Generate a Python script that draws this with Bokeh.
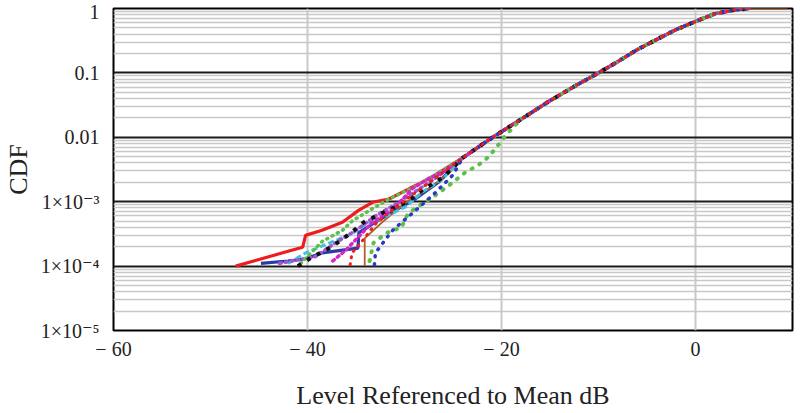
from bokeh.plotting import figure
from bokeh.models import FixedTicker, Range1d
from bokeh.embed import file_html
from bokeh.resources import INLINE

# ---- axis ticks / labels ----
x_ticks = [-60, -40, -20, 0]
x_tick_labels = ["\u2212 60", "\u2212 40", "\u2212 20", "0"]
y_ticks = [1e-5, 1e-4, 1e-3, 1e-2, 1e-1, 1.0]
y_tick_labels = ["1\u00d710\u207b\u2075", "1\u00d710\u207b\u2074", "1\u00d710\u207b\u00b3", "0.01", "0.1", "1"]
x_label = "Level Referenced to Mean dB"
y_label = "CDF"

# ---- shared upper part of the CDF curves ----
upper_x = [-24, -21, -18, -15, -12, -10, -8, -6, -4, -2, 0, 2, 4, 5.5]
upper_y = [4.8e-3, 9.8e-3, 0.019, 0.037, 0.068, 0.10, 0.15, 0.23, 0.33, 0.47, 0.63, 0.83, 0.95, 1.0]

# ---- lower tails of each series ----
red_x = [-47.4, -46, -44, -42, -40.5, -40.2, -38.5, -36.4, -34.7, -33.3, -31.6, -29.5, -28.2, -27.2]
red_y = [1.0e-4, 1.15e-4, 1.4e-4, 1.7e-4, 1.96e-4, 3.0e-4, 3.6e-4, 4.8e-4, 7.4e-4, 9.8e-4, 1.1e-3, 1.6e-3, 2.0e-3, 2.4e-3]

blue_x = [-44.8, -42, -40.2, -38.5, -34.8, -34.7, -33, -30.6, -28.9, -26.5]
blue_y = [1.1e-4, 1.2e-4, 1.3e-4, 1.6e-4, 1.9e-4, 3.3e-4, 4.8e-4, 7.9e-4, 1.1e-3, 2.0e-3]

brown_x = [-34.1, -34.1, -32.3, -29.9, -27.2, -25]
brown_y = [1.0e-4, 2.7e-4, 4.8e-4, 9.6e-4, 1.7e-3, 3.2e-3]
brown_end_x = [9.5]
brown_end_y = [1.0]

cyan_x = [-42, -40.2, -37.1, -35.4, -34.1, -32, -29.9, -28.2, -26]
cyan_y = [1.1e-4, 1.6e-4, 2.5e-4, 3.2e-4, 4.3e-4, 5.8e-4, 8.3e-4, 1.4e-3, 2.3e-3]

black_x = [-41, -39.8, -37.5, -35.6, -34.2, -32, -29.7, -28.2, -26]
black_y = [1.0e-4, 1.3e-4, 2.0e-4, 3.2e-4, 4.8e-4, 7e-4, 1.0e-3, 1.5e-3, 2.4e-3]

magenta_x = [-37.4, -36, -35, -33.3, -31, -29.2, -27.5, -26]
magenta_y = [1.2e-4, 1.8e-4, 2.6e-4, 4.8e-4, 8e-4, 1.6e-3, 2.3e-3, 2.9e-3]

purple_x = [-42.9, -39.2, -37.1, -35, -33, -31, -29, -26.5]
purple_y = [1.1e-4, 1.4e-4, 2.3e-4, 3.6e-4, 6e-4, 9e-4, 1.4e-3, 2.5e-3]

green1_x = [-40.7, -38.5, -36.4, -35.4, -33.5, -31.6, -29, -26.5]
green1_y = [1.1e-4, 2.4e-4, 3.6e-4, 5e-4, 7.5e-4, 1.1e-3, 1.7e-3, 2.8e-3]

green2_x = [-33.6, -33.2, -31.8, -30.3, -29.7, -28.9, -27, -25.4, -23.8, -22.4, -21.3, -19.5]
green2_y = [1.2e-4, 2.3e-4, 3.3e-4, 4.0e-4, 6.3e-4, 7.9e-4, 1.2e-3, 1.8e-3, 2.8e-3, 3.7e-3, 5.0e-3, 0.011]

bluedot_x = [-33.1, -33, -31.3, -30.5, -29, -27, -25]
bluedot_y = [1.05e-4, 1.6e-4, 3.5e-4, 4.5e-4, 7e-4, 1.3e-3, 2.6e-3]

reddot_x = [-35.6, -35.4, -34.5, -33, -31]
reddot_y = [1.05e-4, 1.6e-4, 2.3e-4, 4.5e-4, 8e-4]

FONT = "'Liberation Serif', 'Times New Roman', 'DejaVu Serif', serif"

p = figure(width=800, height=413, x_range=Range1d(-60, 10), y_range=Range1d(1e-5, 1),
           y_axis_type="log", output_backend="svg", toolbar_location=None,
           min_border_left=110, min_border_right=8, min_border_top=8, min_border_bottom=83)
p.background_fill_color = "white"
p.border_fill_color = "white"
p.outline_line_color = "black"
p.outline_line_width = 2

# grid
p.xaxis.ticker = FixedTicker(ticks=x_ticks)
minor_y = [m * d for d in y_ticks[:-1] for m in range(2, 10)]
p.yaxis.ticker = FixedTicker(ticks=y_ticks, minor_ticks=minor_y)
p.xgrid.grid_line_color = "#c8c8c8"
p.xgrid.grid_line_width = 2
p.ygrid.grid_line_color = "#1a1a1a"
p.ygrid.grid_line_width = 2
p.ygrid.minor_grid_line_color = "#c8c8c8"
p.ygrid.minor_grid_line_width = 1.5

for ax in (p.xaxis, p.yaxis):
    ax.axis_line_color = None
    ax.major_tick_line_color = None
    ax.minor_tick_line_color = None
    ax.major_label_text_font = FONT
    ax.major_label_text_font_size = "20px"
    ax.major_label_text_color = "#222222"
    ax.axis_label_text_font = FONT
    ax.axis_label_text_font_size = "26px"
    ax.axis_label_text_font_style = "normal"
    ax.axis_label_text_color = "#222222"

p.xaxis.major_label_overrides = dict(zip(x_ticks, x_tick_labels))
p.yaxis.major_label_overrides = dict(zip(y_ticks, y_tick_labels))
p.xaxis.axis_label = x_label
p.yaxis.axis_label = y_label
p.xaxis.major_label_standoff = 1
p.xaxis.axis_label_standoff = 18
p.yaxis.major_label_standoff = 8
p.yaxis.axis_label_standoff = 5

# series
p.line(red_x + upper_x, red_y + upper_y, line_color="#ee1c1c", line_width=3.2)
p.line(blue_x + upper_x, blue_y + upper_y, line_color="#2b3aa8", line_width=3.2)
p.line(brown_x + upper_x + brown_end_x, brown_y + upper_y + brown_end_y, line_color="#b0602a", line_width=1.8)
p.line(cyan_x + upper_x, cyan_y + upper_y, line_color="#3cc4dc", line_width=3, line_dash="6 3")
p.line(purple_x + upper_x, purple_y + upper_y, line_color="#a058d0", line_width=3.5, line_dash="2 4", line_cap="round")
p.line(green1_x + upper_x, green1_y + upper_y, line_color="#5cc04a", line_width=3.5, line_dash="1 5", line_cap="round")
p.line(magenta_x + upper_x, magenta_y + upper_y, line_color="#d428c4", line_width=3.5, line_dash="2 4", line_cap="round")
p.line(black_x + upper_x, black_y + upper_y, line_color="#111111", line_width=4, line_dash="4 7")
p.line(green2_x + upper_x[2:], green2_y + upper_y[2:], line_color="#5cc04a", line_width=4, line_dash="1 8", line_cap="round")
p.line(bluedot_x + upper_x, bluedot_y + upper_y, line_color="#2b3ac0", line_width=3.5, line_dash="1 7", line_cap="round")
p.line(reddot_x + upper_x, reddot_y + upper_y, line_color="#ee1c1c", line_width=3, line_dash="1 6", line_cap="round")

open("out.html", "w").write(file_html(p, INLINE))
